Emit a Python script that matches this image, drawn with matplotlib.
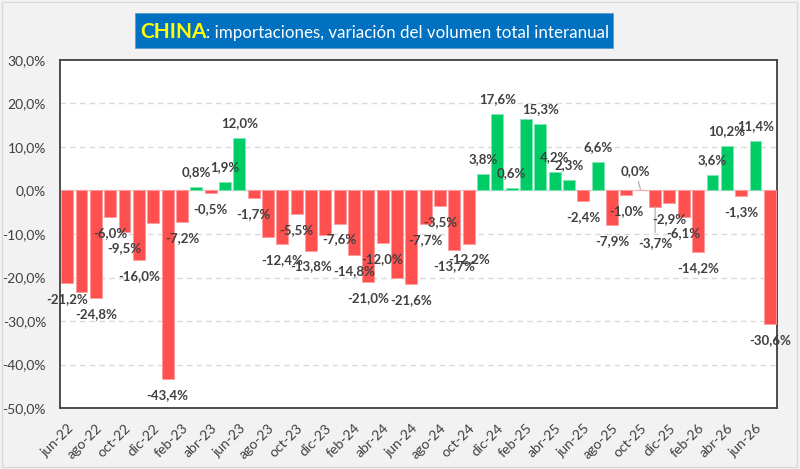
import matplotlib.pyplot as plt
from matplotlib.patches import Rectangle
import numpy as np

plt.rcParams['font.family'] = ['Lato', 'DejaVu Sans']

# variación interanual (%) jun-22 .. jul-26
values = [-21.2, -23.3, -24.8, -6.0, -9.5, -16.0, -7.4, -43.4, -7.2, 0.8,
          -0.5, 1.9, 12.0, -1.7, -10.8, -12.4, -5.5, -13.8, -10.2, -7.6,
          -14.8, -21.0, -12.0, -20.2, -21.6, -7.7, -3.5, -13.7, -12.2, 3.8,
          17.6, 0.6, 16.4, 15.3, 4.2, 2.3, -2.4, 6.6, -7.9, -1.0,
          0.0, -3.7, -2.9, -6.1, -14.2, 3.6, 10.2, -1.3, 11.4, -30.6]
# bars without a data label in the original
unlabeled = [1, 6, 14, 18, 23, 32]
tick_labels = ["jun-22", "ago-22", "oct-22", "dic-22", "feb-23", "abr-23", "jun-23",
               "ago-23", "oct-23", "dic-23", "feb-24", "abr-24", "jun-24", "ago-24",
               "oct-24", "dic-24", "feb-25", "abr-25", "jun-25", "ago-25", "oct-25",
               "dic-25", "feb-26", "abr-26", "jun-26"]

red = "#ff5050"
green = "#00cc66"
txt = "#404040"

fig = plt.figure(figsize=(8, 4.69), dpi=100, facecolor="#f2f2f2")
ax = fig.add_axes([60/800, 61/469, 717/800, 348/469])

x = np.arange(len(values))
vals = np.array(values)
colors = [green if v > 0 else red for v in vals]
edges = ["#7fe5b2" if v > 0 else "#ff9c9c" for v in vals]
ax.bar(x, vals, width=0.83, color=colors, edgecolor=edges, linewidth=0.6, zorder=3)

ax.set_xlim(-0.5, len(values) - 0.5)
ax.set_ylim(-50, 30)
ax.set_yticks(np.arange(-50, 31, 10))
ax.set_yticklabels([f"{v:.1f}%".replace(".", ",") for v in np.arange(-50, 31, 10)])
ax.set_xticks(x[::2])
ax.set_xticklabels(tick_labels, rotation=45, ha="right", rotation_mode="anchor")
ax.tick_params(axis="both", length=0, colors=txt, labelsize=10)
ax.tick_params(axis="x", pad=10)
ax.tick_params(axis="y", pad=10)

for y in [-40, -30, -20, -10, 10, 20]:
    ax.axhline(y, color="#d9d9d9", lw=1, ls=(0, (4, 3)), zorder=1)
ax.axhline(0, color="#d9d9d9", lw=1, zorder=2)

for s in ax.spines.values():
    s.set_color("#404040")
    s.set_linewidth(1.3)

# data labels
for i, v in enumerate(values):
    if i in unlabeled:
        continue
    lab = f"{v:.1f}%".replace(".", ",")
    if i == 40:
        ax.annotate(lab, (i, v), xytext=(-5, 19), textcoords="offset pixels",
                    ha="center", va="center", fontsize=9.5, fontweight="bold", color=txt,
                    arrowprops=dict(arrowstyle="-", color="#a6a6a6", lw=0.8,
                                    shrinkA=1, shrinkB=1), zorder=5)
        continue
    if i == 41:
        ax.annotate(lab, (i, v), xytext=(0, -36), textcoords="offset pixels",
                    ha="center", va="center", fontsize=9.5, fontweight="bold", color=txt,
                    arrowprops=dict(arrowstyle="-", color="#a6a6a6", lw=0.8,
                                    shrinkA=1, shrinkB=0), zorder=5)
        continue
    off = 15 if v > 0 else -16
    ax.annotate(lab, (i, v), xytext=(0, off), textcoords="offset pixels",
                ha="center", va="center", fontsize=9.5, fontweight="bold", color=txt,
                annotation_clip=False, zorder=5)

# title box
fig.patches.append(Rectangle((135/800, 1 - 48/469), 478/800, 35/469,
                             transform=fig.transFigure, facecolor="#0070c0",
                             edgecolor="#5b9bd5", lw=0.6))
t1 = fig.text(140/800, 1 - 38/469, "CHINA", color="#ffff00", fontsize=15,
              fontweight="bold", va="baseline", ha="left")
fig.canvas.draw()
bb = t1.get_window_extent()
fig.text(bb.x1 / 800, 1 - 38/469, ": importaciones, variación del volumen total interanual",
         color="white", fontsize=12.2, va="baseline", ha="left")

# outer frame
fig.patches.append(Rectangle((2/800, 2/469), 795/800, 465/469, transform=fig.transFigure,
                             facecolor="none", edgecolor="#d9d9d9", lw=1))

fig.savefig("out.png", dpi=100, facecolor=fig.get_facecolor())
